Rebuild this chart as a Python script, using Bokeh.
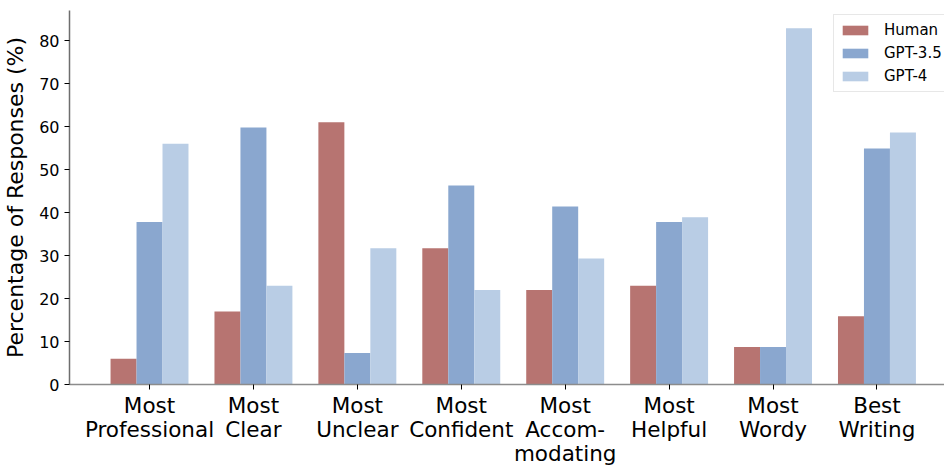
import numpy as np
from bokeh.plotting import figure
from bokeh.models import ColumnDataSource, Range1d, FixedTicker, Legend, LegendItem
from bokeh.transform import dodge
from bokeh.embed import file_html
from bokeh.resources import INLINE

categories = ["Most\nProfessional", "Most\nClear", "Most\nUnclear", "Most\nConfident",
              "Most\nAccom-\nmodating", "Most\nHelpful", "Most\nWordy", "Best\nWriting"]
human = [6.0, 17.0, 61.0, 31.7, 22.0, 23.0, 8.7, 15.9]
gpt35 = [37.8, 59.8, 7.3, 46.3, 41.4, 37.8, 8.7, 54.9]
gpt4 = [56.0, 23.0, 31.7, 22.0, 29.3, 38.9, 82.9, 58.6]
series_names = ["Human", "GPT-3.5", "GPT-4"]
colors = ["#B77471", "#8AA7CF", "#B9CDE5"]

x = np.arange(len(categories))
src = ColumnDataSource(dict(x=x, human=human, gpt35=gpt35, gpt4=gpt4))

FONT = "DejaVu Sans"
p = figure(width=944, height=469, output_backend="svg", toolbar_location=None,
           x_range=Range1d(-0.77, 7.65), y_range=Range1d(0, 87),
           min_border_left=68, min_border_right=0, min_border_top=10, min_border_bottom=85)

w = 0.25
r1 = p.vbar(x=dodge("x", -w, range=p.x_range), top="human", width=w, source=src,
            fill_color=colors[0], line_color=None)
r2 = p.vbar(x=dodge("x", 0, range=p.x_range), top="gpt35", width=w, source=src,
            fill_color=colors[1], line_color=None)
r3 = p.vbar(x=dodge("x", w, range=p.x_range), top="gpt4", width=w, source=src,
            fill_color=colors[2], line_color=None)

p.outline_line_color = None
p.grid.visible = False

p.xaxis.ticker = FixedTicker(ticks=list(x))
p.xaxis.major_label_overrides = {int(i): c for i, c in zip(x, categories)}
p.xaxis.major_label_text_font = FONT
p.xaxis.major_label_text_font_size = "21.5px"
p.xaxis.major_label_text_line_height = 0.96
p.xaxis.major_label_text_color = "black"
p.xaxis.minor_tick_line_color = None
p.xaxis.major_tick_in = 0
p.xaxis.major_tick_out = 5
p.xaxis.major_tick_line_color = "black"
p.xaxis.axis_line_color = "#8c8c8c"
p.xaxis.axis_line_width = 1.5
p.xaxis.major_label_standoff = 3

p.yaxis.ticker = FixedTicker(ticks=[0, 10, 20, 30, 40, 50, 60, 70, 80])
p.yaxis.major_label_text_font = FONT
p.yaxis.major_label_text_font_size = "16px"
p.yaxis.major_label_text_color = "black"
p.yaxis.minor_tick_line_color = None
p.yaxis.major_tick_in = 0
p.yaxis.major_tick_out = 5
p.yaxis.major_tick_line_color = "black"
p.yaxis.axis_line_color = "#6e6e6e"
p.yaxis.axis_line_width = 1.5
p.yaxis.major_label_standoff = 5
p.yaxis.axis_label = "Percentage of Responses (%)"
p.yaxis.axis_label_text_font = FONT
p.yaxis.axis_label_text_font_size = "22px"
p.yaxis.axis_label_text_font_style = "normal"
p.yaxis.axis_label_text_color = "black"
p.yaxis.axis_label_standoff = 8

legend = Legend(items=[LegendItem(label=n, renderers=[r]) for n, r in zip(series_names, [r1, r2, r3])],
                location=(764, 292))
legend.label_text_font = FONT
legend.label_text_font_size = "15px"
legend.label_text_color = "black"
legend.glyph_width = 32
legend.glyph_height = 12
legend.label_height = 20
legend.spacing = 3
legend.padding = 5
legend.margin = 0
legend.border_line_color = "#d0d0d0"
legend.label_standoff = 13
p.add_layout(legend)

open("out.html", "w").write(file_html(p, INLINE))
